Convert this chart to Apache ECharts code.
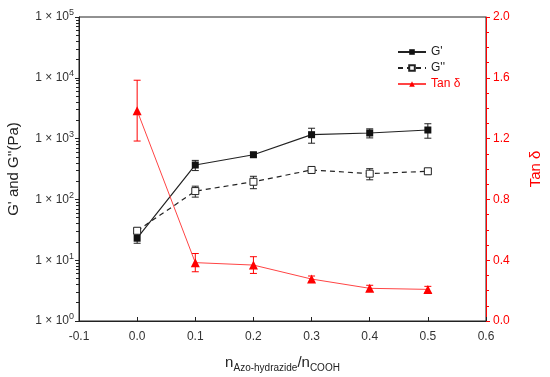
<!DOCTYPE html>
<html>
<head>
<meta charset="utf-8">
<script src="https://cdn.jsdelivr.net/npm/echarts@6/dist/echarts.min.js"></script>
<style>html,body{margin:0;padding:0;background:#fff}#c{width:550px;height:377px}</style>
</head>
<body>
<div id="c"></div>
<script>
var ratio = [0.0, 0.1, 0.2, 0.3, 0.4, 0.5];
var gPrime = [23, 368, 543, 1160, 1237, 1385];
var gPrimeErr = [4, 70, 45, 320, 210, 370];
var gDouble = [30.5, 137, 195, 305, 265, 290];
var gDoubleErr = [3, 28, 45, 22, 55, 32];
var tanDelta = [1.384, 0.384, 0.368, 0.276, 0.215, 0.208];
var tanDeltaErr = [0.2, 0.06, 0.055, 0.02, 0.02, 0.02];
var xTicks = [-0.1, 0.0, 0.1, 0.2, 0.3, 0.4, 0.5, 0.6];
var rightTicks = [0.0, 0.4, 0.8, 1.2, 1.6, 2.0];

function pairs(xs, ys) { return xs.map(function (x, i) { return [x, ys[i]]; }); }
function errData(xs, ys, es) { return xs.map(function (x, i) { return [x, ys[i] - es[i], ys[i] + es[i]]; }); }
function errRender(color) {
  return function (params, api) {
    var lo = api.coord([api.value(0), api.value(1)]);
    var hi = api.coord([api.value(0), api.value(2)]);
    var w = 3.5;
    var st = { stroke: color, lineWidth: 1 };
    return { type: 'group', children: [
      { type: 'line', shape: { x1: lo[0], y1: lo[1], x2: hi[0], y2: hi[1] }, style: st },
      { type: 'line', shape: { x1: lo[0] - w, y1: lo[1], x2: lo[0] + w, y2: lo[1] }, style: st },
      { type: 'line', shape: { x1: hi[0] - w, y1: hi[1], x2: hi[0] + w, y2: hi[1] }, style: st }
    ]};
  };
}

var chart = echarts.init(document.getElementById('c'), null, { renderer: 'canvas' });
var font = 'Liberation Sans, Arial, sans-serif';
chart.setOption({
  animation: false,
  textStyle: { fontFamily: font },
  grid: { left: 79, right: 64, top: 17, bottom: 56, containLabel: false, outerBoundsMode: 'none',
    show: true, borderColor: '#222', borderWidth: 1 },
  legend: {
    orient: 'vertical', left: 392, top: 41, itemWidth: 28, itemHeight: 7, itemGap: 4,
    textStyle: { fontSize: 12, color: '#222', fontFamily: font },
    data: [
      { name: "G'" },
      { name: "G''" },
      { name: 'Tan δ', textStyle: { color: '#f00' } }
    ]
  },
  xAxis: {
    type: 'value', min: -0.1, max: 0.6, interval: 0.1,
    name: 'n{sub|Azo-hydrazide}/n{sub|COOH}', nameLocation: 'middle', nameGap: 32,
    nameTextStyle: { fontSize: 15, color: '#222', fontFamily: font,
      rich: { sub: { fontSize: 10, color: '#222', padding: [10, 0, 0, 0], fontFamily: font } } },
    axisLine: { onZero: false, lineStyle: { color: '#222' } },
    axisTick: { inside: true, length: 4, lineStyle: { color: '#222' } },
    axisLabel: { fontSize: 12, color: '#333', margin: 10, formatter: function (v) { return v.toFixed(1); } },
    splitLine: { show: false }
  },
  yAxis: [
    {
      type: 'log', logBase: 10, min: 1, max: 100000,
      name: "G' and G''(Pa)", nameLocation: 'middle', nameGap: 58, nameRotate: 90,
      nameTextStyle: { fontSize: 15, color: '#222', fontFamily: font },
      axisLine: { show: true, onZero: false, lineStyle: { color: '#222' } },
      axisTick: { show: true, inside: false, length: 4, lineStyle: { color: '#222' } },
      minorTick: { show: true, splitNumber: 9, length: 3, lineStyle: { color: '#222' } },
      axisLabel: { fontSize: 12, color: '#333', margin: 5,
        formatter: function (v) { return '1 × 10{sup|' + Math.round(Math.log10(v)) + '}'; },
        rich: { sup: { fontSize: 9, color: '#333', padding: [0, 0, 8, 0] } } },
      splitLine: { show: false }
    },
    {
      type: 'value', min: 0, max: 2, interval: 0.4,
      name: 'Tan δ', nameLocation: 'middle', nameGap: 42, nameRotate: 90,
      nameTextStyle: { fontSize: 15, color: '#f00', fontFamily: font },
      axisLine: { show: true, onZero: false, lineStyle: { color: '#f00' } },
      axisTick: { show: true, length: 4, lineStyle: { color: '#f00' } },
      minorTick: { show: true, splitNumber: 4, length: 3, lineStyle: { color: '#f00' } },
      axisLabel: { fontSize: 12, color: '#f00', margin: 7, formatter: function (v) { return v.toFixed(1); } },
      splitLine: { show: false }
    }
  ],
  series: [
    { name: "G'", type: 'line', yAxisIndex: 0, data: pairs(ratio, gPrime),
      symbol: 'rect', symbolSize: 7, itemStyle: { color: '#111' }, lineStyle: { color: '#222', width: 1.2 }, z: 5 },
    { name: "G''", type: 'line', yAxisIndex: 0, data: pairs(ratio, gDouble),
      symbol: 'rect', symbolSize: 7, itemStyle: { color: '#fff', borderColor: '#222', borderWidth: 1 },
      lineStyle: { color: '#222', width: 1.2, type: [5, 4] }, z: 5 },
    { name: 'Tan δ', type: 'line', yAxisIndex: 1, data: pairs(ratio, tanDelta),
      symbol: 'triangle', symbolSize: 9, itemStyle: { color: '#f00' }, lineStyle: { color: '#f44', width: 1 }, z: 5 },
    { type: 'custom', yAxisIndex: 0, data: errData(ratio, gPrime, gPrimeErr), renderItem: errRender('#222'), encode: { x: 0, y: [1, 2] }, z: 4 },
    { type: 'custom', yAxisIndex: 0, data: errData(ratio, gDouble, gDoubleErr), renderItem: errRender('#222'), encode: { x: 0, y: [1, 2] }, z: 4 },
    { type: 'custom', yAxisIndex: 1, data: errData(ratio, tanDelta, tanDeltaErr), renderItem: errRender('#f00'), encode: { x: 0, y: [1, 2] }, z: 4 }
  ]
});
</script>
</body>
</html>
